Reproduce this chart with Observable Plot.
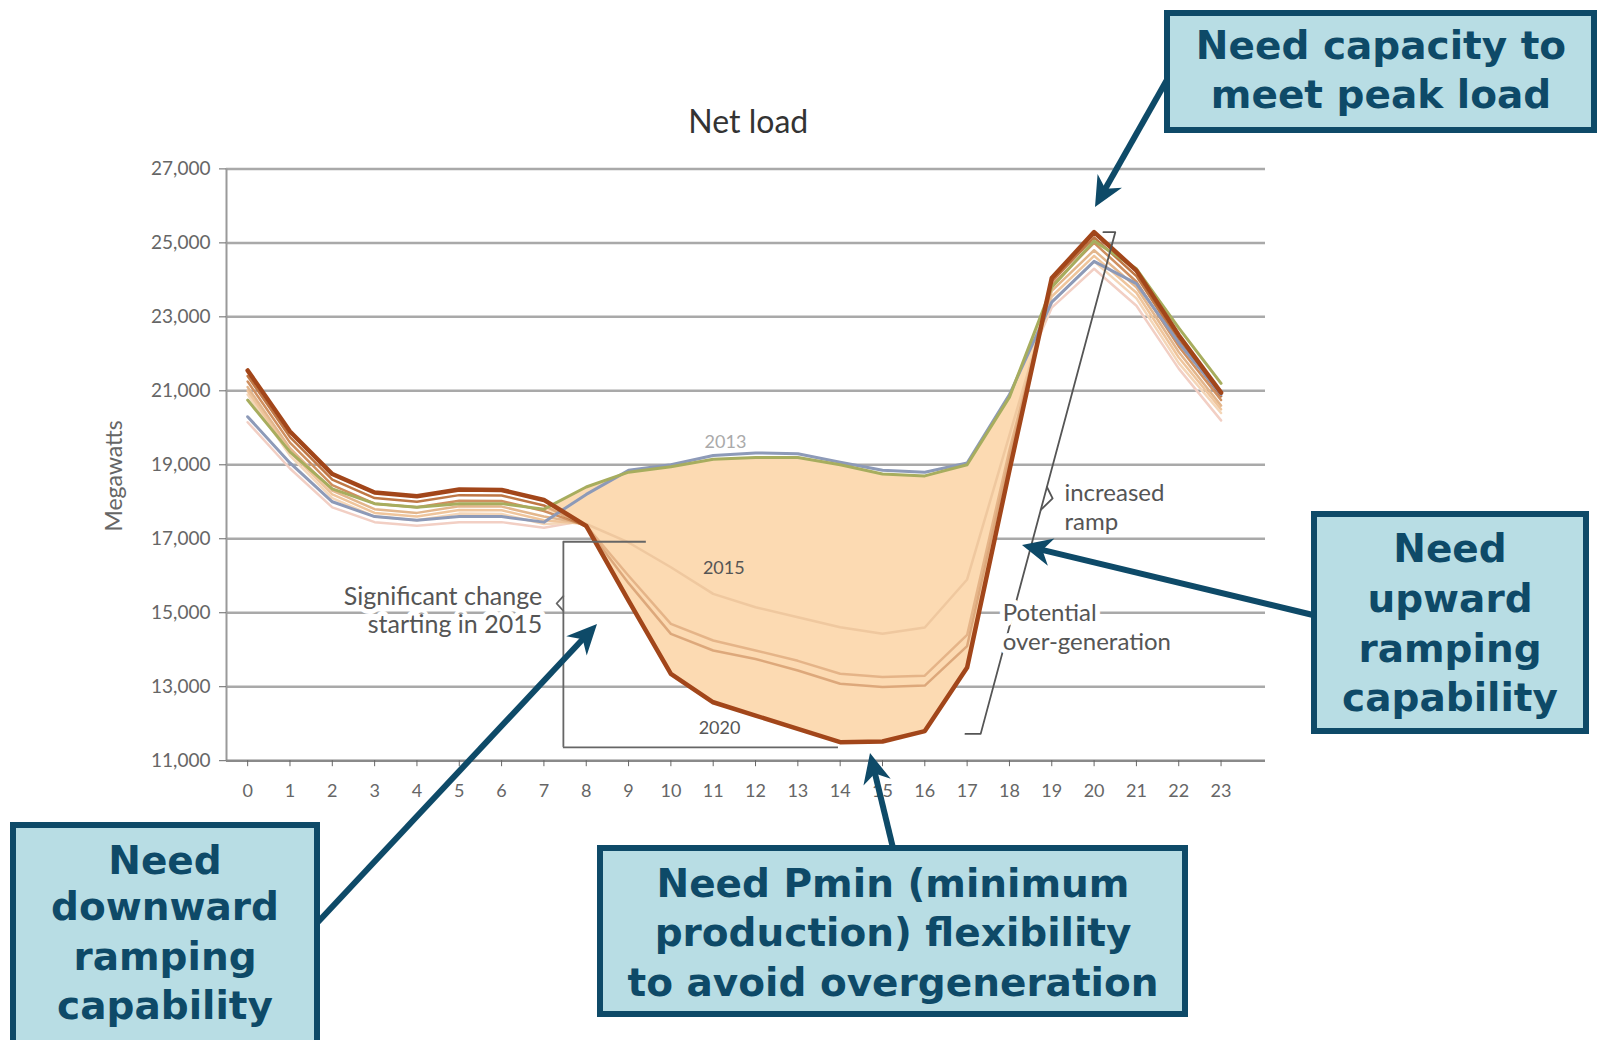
<!DOCTYPE html>
<html><head><meta charset="utf-8">
<script src="https://cdn.jsdelivr.net/npm/d3@7"></script>
<script src="https://cdn.jsdelivr.net/npm/@observablehq/plot@0.6"></script>
<style>
body{margin:0;background:#fff;}
#chart{position:relative;width:1600px;height:1040px;}
</style>
</head><body><div id="chart"></div>
<script>
// ---------------- data ----------------
const hours = [0,1,2,3,4,5,6,7,8,9,10,11,12,13,14,15,16,17,18,19,20,21,22,23];
const yTicks = [11000,13000,15000,17000,19000,21000,23000,25000,27000];
const years = ["2012","2013","2014","2015","2016","2017","2018","2019","2020"];

const load2012 = [20300,19050,18000,17600,17500,17600,17600,17450,18200,18850,19000,19250,19320,19300,19070,18850,18800,19050,20900,23400,24500,23900,22300,20900];
const load2013 = [20750,19350,18350,17950,17850,17950,17950,17800,18400,18800,18950,19150,19200,19200,19000,18750,18700,19000,20830,23800,25050,24300,22700,21200];
const load2014 = [20150,18900,17850,17450,17350,17450,17450,17300,17500,18500,18500,18600,18600,18500,18300,18100,18100,18600,20600,23250,24300,23300,21600,20200];
const load2015 = [20900,19250,18100,17600,17500,17680,17670,17400,17450,18000,17800,17500,17300,17100,16900,16800,16900,17700,20300,23400,24500,23500,21750,20400];
const load2016 = [21000,19350,18200,17700,17600,17780,17770,17500,17400,17500,17100,16700,16500,16300,16100,16000,16100,17000,20100,23550,24650,23650,21900,20500];
const load2017 = [21100,19450,18300,17800,17700,17880,17870,17600,17400,16900,16230,15510,15150,14880,14610,14430,14600,15900,19800,23700,24800,23800,22050,20600];
const load2018 = [21250,19600,18450,17950,17850,18030,18020,17750,17350,16000,14700,14250,13980,13700,13350,13260,13300,14400,19400,23850,25000,23950,22200,20750];
const load2019 = [21400,19750,18600,18100,18000,18180,18170,17900,17320,15800,14430,13980,13750,13440,13080,12990,13030,14100,19200,23950,25150,24100,22350,20850];
const load2020 = [21550,19900,18750,18250,18150,18330,18320,18050,17350,15330,13350,12580,12220,11860,11500,11520,11800,13520,18850,24050,25290,24250,22500,20950];

const loads = {"2012":load2012,"2013":load2013,"2014":load2014,"2015":load2015,"2016":load2016,
               "2017":load2017,"2018":load2018,"2019":load2019,"2020":load2020};

// ---------------- styles ----------------
const yearColors = {"2012":"#8d9ab8","2013":"#a7ad5e","2014":"#f2cfc4","2015":"#f4d6b8","2016":"#efc59c",
                    "2017":"#e3b68c","2018":"#cf8f5f","2019":"#bf7745","2020":"#a2461a"};
const yearWidths = {"2012":3,"2013":3,"2014":2.5,"2015":2.5,"2016":2.5,"2017":2.5,"2018":2.5,"2019":2.5,"2020":4.5};
const fillColor = "#fcdab2";

const rows = years.flatMap(yr => hours.map(h => ({year: yr, hour: h, value: loads[yr][h]})));
const paleYears = ["2014","2015","2016"];
const midYears = ["2017","2018","2019"];
const frontYears = ["2012","2013","2020"];
const fillRows = hours.filter(h => h >= 7 && h <= 20)
  .map(h => ({hour: h, lo: Math.min(load2013[h], load2020[h]), hi: load2013[h]}));

const lineMarks = ys => ys.map(yr => Plot.line(rows.filter(d => d.year === yr),
  {x: "hour", y: "value", stroke: yearColors[yr], strokeWidth: yearWidths[yr], strokeLinejoin: "round", strokeLinecap: "round"}));

const grey = "#555";
const chart = Plot.plot({
  width: 1600, height: 1040,
  marginLeft: 226, marginRight: 335, marginTop: 168.4, marginBottom: 279.8,
  x: {domain: [-0.5, 24.05]},
  y: {domain: [11000, 27000]},
  style: {fontFamily: "Lato, 'Open Sans', sans-serif", background: "white", overflow: "visible"},
  marks: [
    Plot.ruleY(yTicks.filter(t => t > 11000), {x1: -0.5, x2: 24.05, stroke: "#a9a9a9", strokeWidth: 2.5}),
    Plot.ruleX([-0.5], {y1: 11000, y2: 27000, stroke: "#9a9a9a", strokeWidth: 2}),
    Plot.ruleY([11000], {x1: -0.5, x2: 24.05, stroke: "#8a8a8a", strokeWidth: 2.5}),
    Plot.axisY(yTicks, {tickSize: 7, tickPadding: 9, tickFormat: d3.format(","), fontSize: 19, color: "#666", label: null}),
    Plot.axisX(hours, {tickSize: 6, tickPadding: 18, fontSize: 18, color: "#666", label: null}),
    Plot.text(["Megawatts"], {x: -3.15, y: 18700, rotate: -90, fontSize: 23, fill: "#666"}),
    ...lineMarks(paleYears),
    Plot.areaY(fillRows, {x: "hour", y1: "lo", y2: "hi", fill: fillColor}),
    ...lineMarks(midYears),
    Plot.areaY(fillRows, {x: "hour", y1: "lo", y2: "hi", fill: fillColor, fillOpacity: 0.5}),
    ...lineMarks(frontYears),
    // "Significant change" bracket
    Plot.ruleX([7.46], {y1: 11360, y2: 16920, stroke: "#666", strokeWidth: 1.8}),
    Plot.ruleY([16920], {x1: 7.46, x2: 9.42, stroke: "#666", strokeWidth: 1.8}),
    Plot.ruleY([11360], {x1: 7.46, x2: 13.96, stroke: "#666", strokeWidth: 1.8}),
    Plot.line([{h: 7.46, v: 15450}, {h: 7.30, v: 15250}, {h: 7.46, v: 15050}], {x: "h", y: "v", stroke: "#666", strokeWidth: 1.8}),
    // "increased ramp" bracket
    Plot.line([{h: 20.22, v: 25290}, {h: 20.5, v: 25290}, {h: 17.32, v: 11725}, {h: 16.96, v: 11725}],
      {x: "h", y: "v", stroke: "#555", strokeWidth: 1.8}),
    Plot.line([{h: 18.885, v: 18400}, {h: 19.02, v: 18090}, {h: 18.74, v: 17780}], {x: "h", y: "v", stroke: "#555", strokeWidth: 1.8}),
    // texts
    Plot.text(["Net load"], {x: 11.83, y: 28255, fontSize: 32, fill: "#333"}),
    Plot.text(["2013"], {x: 11.29, y: 19600, fontSize: 18, fill: "#aaa"}),
    Plot.text(["2015"], {x: 11.25, y: 16195, fontSize: 18, fill: grey}),
    Plot.text(["2020"], {x: 11.15, y: 11882, fontSize: 18, fill: grey}),
    Plot.text(["Significant change\nstarting in 2015"], {x: 6.96, y: 15086, textAnchor: "end", fontSize: 25, lineHeight: 1.12,
      fill: grey, stroke: "white", strokeWidth: 10}),
    Plot.text(["increased\nramp"], {x: 19.30, y: 17885, textAnchor: "start", fontSize: 24, lineHeight: 1.2, fill: grey}),
    Plot.text(["Potential\nover-generation"], {x: 17.84, y: 14640, textAnchor: "start", fontSize: 24, lineHeight: 1.2,
      fill: grey, stroke: "white", strokeWidth: 10})
  ]
});
document.getElementById("chart").appendChild(chart);

// ---------------- callout overlay ----------------
const svg = d3.select(chart);
const g = svg.append("g");
const ink = "#0e4a68";
const boxes = [
  {x: 1167, y: 13, w: 427, h: 117, cx: 1381, lines: ["Need capacity to", "meet peak load"], base: [59, 108]},
  {x: 1314, y: 514, w: 272, h: 217, cx: 1450, lines: ["Need", "upward", "ramping", "capability"], base: [562, 612, 662, 711]},
  {x: 13, y: 825, w: 304, h: 230, cx: 165, lines: ["Need", "downward", "ramping", "capability"], base: [874, 920, 970, 1019]},
  {x: 600, y: 848, w: 585, h: 166, cx: 893, lines: ["Need Pmin (minimum", "production) flexibility", "to avoid overgeneration"], base: [897, 946, 996]}
];
const arrows = [
  [1168, 78, 1095, 207],
  [1313, 615, 1022, 545],
  [318, 922, 597, 624],
  [893, 848, 870, 753]
];
arrows.forEach(([x1, y1, x2, y2]) => {
  const dx = x2 - x1, dy = y2 - y1, L = Math.hypot(dx, dy), ux = dx / L, uy = dy / L;
  const hl = 30, hw = 14;
  const bx = x2 - ux * hl, by = y2 - uy * hl;
  g.append("line").attr("x1", x1).attr("y1", y1).attr("x2", x2 - ux * 12).attr("y2", y2 - uy * 12)
    .attr("stroke", ink).attr("stroke-width", 6);
  const nx = -uy, ny = ux;
  const pts = [[x2, y2], [bx + nx * hw, by + ny * hw], [x2 - ux * hl * 0.7, y2 - uy * hl * 0.7], [bx - nx * hw, by - ny * hw]];
  g.append("polygon").attr("points", pts.map(p => p.join(",")).join(" ")).attr("fill", ink);
});
boxes.forEach(b => {
  g.append("rect").attr("x", b.x).attr("y", b.y).attr("width", b.w).attr("height", b.h)
    .attr("fill", "#b8dde4").attr("stroke", ink).attr("stroke-width", 6);
  b.lines.forEach((t, i) => {
    g.append("text").attr("x", b.cx).attr("y", b.base[i]).attr("text-anchor", "middle")
      .attr("font-family", "'DejaVu Sans', Verdana, sans-serif").attr("font-weight", "bold")
      .attr("font-size", 39).attr("fill", ink).text(t);
  });
});
</script>
</body></html>
